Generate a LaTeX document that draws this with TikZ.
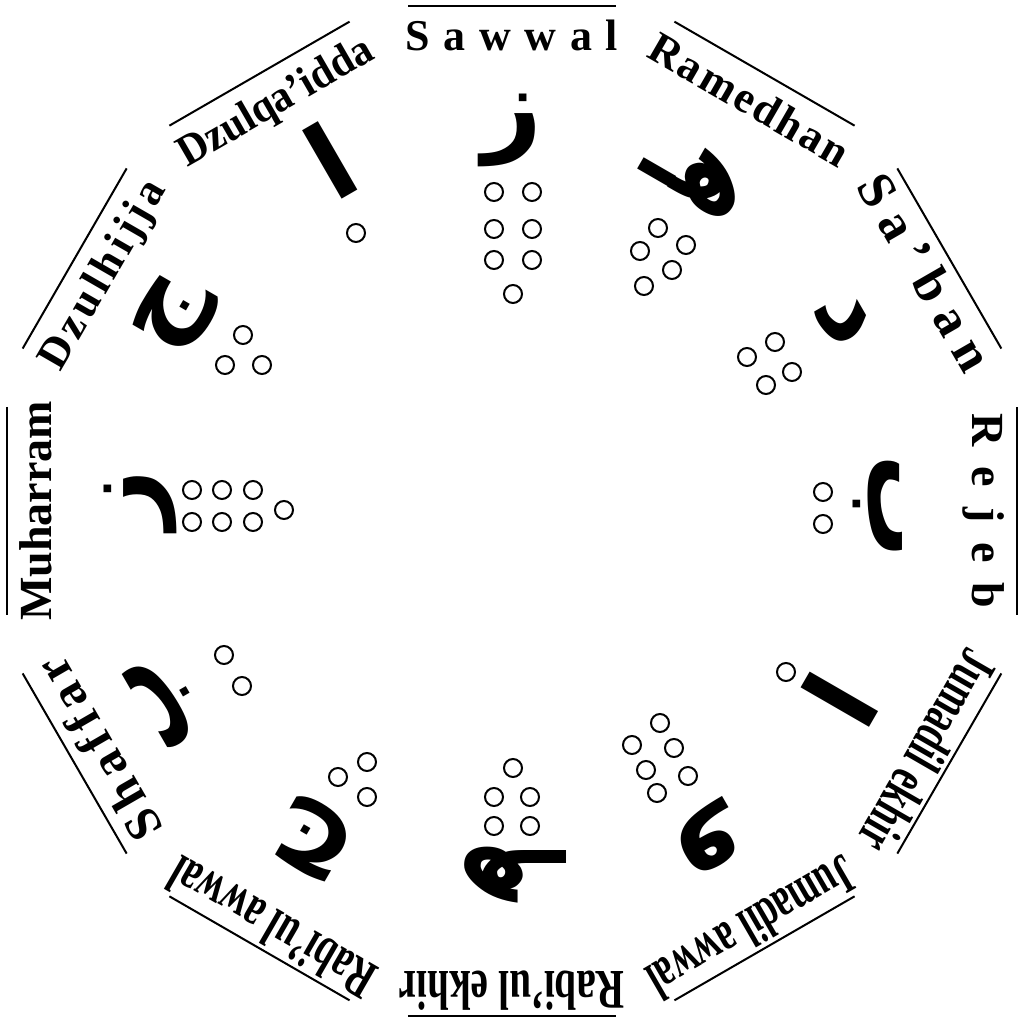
\documentclass[tikz,border=0pt]{standalone}
\usepackage{fontspec}
\setmainfont{Liberation Serif}
\newfontfamily\arabicfont[Script=Arabic]{DejaVu Sans}
\TeXXeTstate=1
\usetikzlibrary{positioning}

% month names: letter spacing and narrow type
\newcommand{\mfont}[1]{\fontsize{#1}{#1}\selectfont\bfseries}
\newcommand{\spaced}[2]{\addfontfeature{LetterSpace=#1}#2}
\newcommand{\narrow}[2]{\addfontfeature{FakeStretch=#1}#2}

\begin{document}
\begin{tikzpicture}[
    x=0.5pt, y=0.5pt,
    month/.style={anchor=base, inner sep=0pt, font=\mfont{22}},
    bigmonth/.style={anchor=base, inner sep=0pt, font=\mfont{28}},
    huruf/.style={inner sep=0pt, font=\arabicfont\fontsize{52}{52}\selectfont\bfseries},
    naktu/.style={line width=1pt},
    rim/.style={line width=1pt}
]
\useasboundingbox (-512,-511) rectangle (512,511);

% outer rim
\foreach \a in {0,30,...,330}
  \draw[rim, rotate=\a] (505,-104) -- (505,104);

% months
\node[month] (sawwal) at (90:460) {\spaced{31}{Sawwal}};
\node[month, rotate=-30] (ramedhan) at (60:460) {\spaced{6}{Ramedhan}};
\node[month, font=\mfont{26}, rotate=-60] (saban) at (30:460) {\spaced{24}{Sa'ban}};
\node[month, font=\mfont{23}, rotate=-90] (rejeb) at (0:460) {\spaced{43}{Rejeb}};
\node[bigmonth, rotate=-120] (jumadilekhir) at (-30:462) {\narrow{0.66}{Jumadil ekhir}};
\node[bigmonth, rotate=-150] (jumadilawwal) at (-60:462) {\narrow{0.64}{Jumadil awwal}};
\node[bigmonth, rotate=180] (rabiulekhir) at (-90:460) {\narrow{0.7}{Rabi'ul ekhir}};
\node[bigmonth, rotate=150] (rabiulawwal) at (-120:462) {\narrow{0.66}{Rabi'ul awwal}};
\node[month, font=\mfont{25}, rotate=120] (shaffar) at (-150:460) {\spaced{14}{Shaffar}};
\node[month, font=\mfont{23}, rotate=90] (muharram) at (180:460) {Muharram};
\node[month, rotate=60] (dzulhijja) at (150:460) {\spaced{10}{Dzulhijja}};
\node[month, rotate=30] (dzulqaidda) at (120:460) {\narrow{0.94}{Dzulqa'idda}};

% letters
\node[huruf] (h-sawwal) at (0,381) {\beginR ز\endR};
\node[huruf, rotate=-30] (h-ramedhan) at (185,336) {\beginR هـ\endR};
\node[huruf, rotate=-60] (h-saban) at (330,191) {\beginR د\endR};
\node[huruf, rotate=-90] (h-rejeb) at (366,4) {\beginR ب\endR};
\node[huruf, rotate=-120] (h-jumadilekhir) at (328,-189) {\beginR ا\endR};
\node[huruf, rotate=-150] (h-jumadilawwal) at (194,-329) {\beginR و\endR};
\node[huruf, rotate=180] (h-rabiulekhir) at (0,-364) {\beginR هـ\endR};
\node[huruf, rotate=150] (h-rabiulawwal) at (-197,-329) {\beginR ج\endR};
\node[huruf, rotate=120] (h-shaffar) at (-347,-189) {\beginR ب\endR};
\node[huruf, rotate=90] (h-muharram) at (-372,11) {\beginR ز\endR};
\node[huruf, rotate=60] (h-dzulhijja) at (-337,196) {\beginR ج\endR};
\node[huruf, rotate=30] (h-dzulqaidda) at (-182,351) {\beginR ا\endR};

% naktu circles
\foreach \p in {(-18,319),(20,319),(-18,282),(20,282),(-18,251),(20,251),(1,217),
                (146,283),(128,260),(174,266),(160,241),(132,225),
                (263,169),(235,154),(280,139),(254,126),
                (311,19),(311,-13),
                (274,-161),
                (148,-212),(120,-234),(162,-237),(134,-259),(176,-265),(145,-282),
                (1,-257),(-18,-286),(18,-286),(-18,-315),(18,-315),
                (-174,-266),(-145,-251),(-145,-286),
                (-288,-144),(-270,-175),
                (-320,21),(-290,21),(-259,21),(-320,-11),(-290,-11),(-259,-11),(-228,1),
                (-269,176),(-287,146),(-250,146),
                (-156,278)}
  \draw[naktu] \p circle (9);
\end{tikzpicture}
\end{document}
